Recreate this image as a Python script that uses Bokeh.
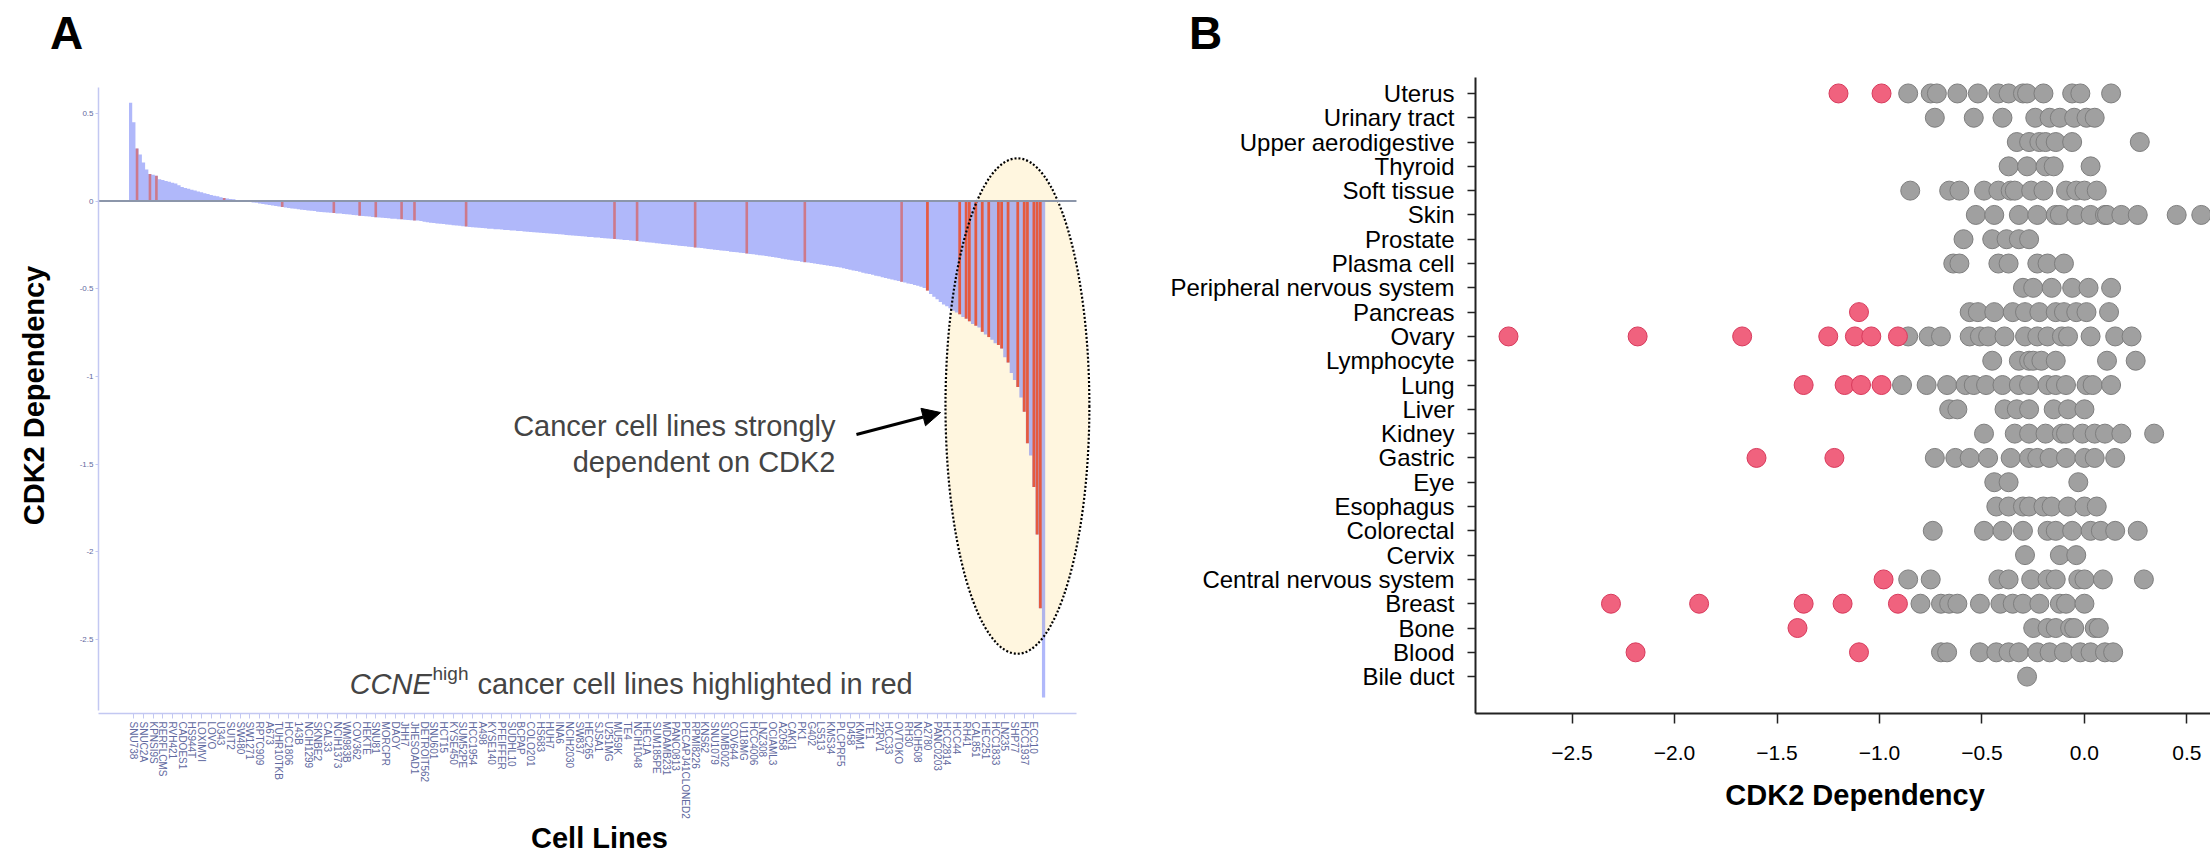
from bokeh.plotting import figure
from bokeh.models import (Range1d, FixedTicker, CustomJSTickFormatter, Label, Arrow,
                          NormalHead, Div)
from bokeh.layouts import row, column
from bokeh.embed import file_html
from bokeh.resources import INLINE

FONT = "Liberation Sans"

# ---------------- Panel A data ----------------
cell_line_labels = [
    "SNU738", "SNUC2A", "KPNSI9S", "RERFLCMS", "RVH421", "CADOES1", "HS944T", "LOXIMVI",
    "LOVO", "U343", "SUIT2", "SW480", "SW1271", "RPTC909", "A673", "TUHR10TKB", "HCC1806",
    "143B", "NCIH1299", "SKNBE2", "CAL33", "NCIH1373", "WM983B", "COV362", "HEKTE", "SNU81",
    "MORCPR", "DAOY", "JHH7", "JHESOAD1", "DETROIT562", "SNU601", "HCT15", "KYSE450",
    "SUM52PE", "HCC1954", "A498", "KYSE140", "PFEIFFER", "SUDHL10", "BCPAP", "COLO201",
    "HS683", "HUH7", "INA6", "NCIH2030", "SW837", "HEC265", "SJSA1", "U251MG", "MU59K",
    "TE4", "NCIH1048", "HEC1A", "SUM185PE", "MDAMB231", "PANC0813", "PECAPJ41CLONED2",
    "RPMI8226", "KNS62", "SNU1079", "SUMB002", "COV644", "U118MG", "HCC4006", "LNZ308",
    "OCIAML3", "A2058", "CAKI1", "PK1", "G402", "LS513", "KMS34", "PLCPRF5", "D458", "KMM1",
    "TE1", "22RV1", "HCC33", "OVTOKO", "RH30", "NCIH508", "A2780", "PANC0203", "HCC2814",
    "HCC44", "RH41", "CAL851", "HEC251", "HCC1833", "LN235", "SHP77", "HCC1937", "ECC10",
]

cdk2_values = [
    0.56, 0.45, 0.30, 0.265, 0.22, 0.18, 0.155, 0.15, 0.145, 0.125,
    0.12, 0.115, 0.11, 0.105, 0.10, 0.09, 0.08, 0.075, 0.07, 0.065,
    0.06, 0.055, 0.05, 0.045, 0.04, 0.035, 0.03, 0.027, 0.022, 0.018,
    0.015, 0.012, 0.01, 0.007, 0.005, 0.002, -0.002, -0.005, -0.008, -0.01,
    -0.013, -0.016, -0.02, -0.022, -0.025, -0.028, -0.031, -0.034, -0.036, -0.039,
    -0.042, -0.044, -0.046, -0.049, -0.051, -0.053, -0.055, -0.057, -0.060, -0.062,
    -0.063, -0.065, -0.066, -0.068, -0.070, -0.071, -0.073, -0.075, -0.077, -0.079,
    -0.081, -0.083, -0.085, -0.087, -0.088, -0.090, -0.092, -0.093, -0.095, -0.097,
    -0.098, -0.100, -0.101, -0.103, -0.104, -0.106, -0.107, -0.109, -0.110, -0.111,
    -0.113, -0.117, -0.120, -0.123, -0.125, -0.127, -0.129, -0.131, -0.133, -0.135,
    -0.137, -0.139, -0.141, -0.143, -0.145, -0.147, -0.149, -0.150, -0.152, -0.154,
    -0.155, -0.157, -0.158, -0.160, -0.161, -0.162, -0.164, -0.165, -0.167, -0.168,
    -0.170, -0.171, -0.173, -0.174, -0.176, -0.177, -0.179, -0.180, -0.182, -0.183,
    -0.185, -0.186, -0.188, -0.189, -0.191, -0.193, -0.194, -0.196, -0.197, -0.199,
    -0.200, -0.202, -0.204, -0.205, -0.207, -0.208, -0.210, -0.212, -0.213, -0.215,
    -0.216, -0.218, -0.219, -0.221, -0.222, -0.224, -0.226, -0.228, -0.230, -0.232,
    -0.234, -0.236, -0.238, -0.240, -0.242, -0.244, -0.246, -0.248, -0.250, -0.252,
    -0.254, -0.256, -0.258, -0.260, -0.262, -0.264, -0.266, -0.268, -0.270, -0.273,
    -0.275, -0.277, -0.279, -0.281, -0.283, -0.285, -0.288, -0.290, -0.292, -0.294,
    -0.296, -0.299, -0.301, -0.303, -0.306, -0.308, -0.310, -0.313, -0.316, -0.319,
    -0.322, -0.325, -0.328, -0.331, -0.334, -0.337, -0.340, -0.342, -0.345, -0.348,
    -0.350, -0.353, -0.356, -0.359, -0.361, -0.364, -0.367, -0.370, -0.373, -0.376,
    -0.379, -0.383, -0.387, -0.391, -0.395, -0.399, -0.403, -0.408, -0.412, -0.416,
    -0.420, -0.425, -0.429, -0.434, -0.438, -0.442, -0.447, -0.451, -0.455, -0.460,
    -0.464, -0.469, -0.473, -0.478, -0.483, -0.488, -0.495, -0.51, -0.53, -0.545,
    -0.56, -0.575, -0.59, -0.60, -0.61, -0.625, -0.635, -0.645, -0.66, -0.67,
    -0.685, -0.70, -0.71, -0.72, -0.745, -0.76, -0.775, -0.79, -0.81, -0.82,
    -0.84, -0.89, -0.92, -0.98, -1.02, -1.06, -1.12, -1.20, -1.38, -1.45,
    -1.63, -1.90, -2.32, -2.83,
]

ccne_high_index = [2, 6, 8, 29, 47, 63, 71, 76, 84, 88, 104, 150, 157, 175, 191, 209,
                   239, 247, 257, 259, 260, 262, 264, 266, 269, 270, 272, 275, 277, 278,
                   280, 281, 282]

# ---------------- Panel B data ----------------
tissues = ["Uterus", "Urinary tract", "Upper aerodigestive", "Thyroid", "Soft tissue", "Skin",
           "Prostate", "Plasma cell", "Peripheral nervous system", "Pancreas", "Ovary",
           "Lymphocyte", "Lung", "Liver", "Kidney", "Gastric", "Eye", "Esophagus",
           "Colorectal", "Cervix", "Central nervous system", "Breast", "Bone", "Blood",
           "Bile duct"]

grey_dots = [
    [-0.86, -0.75, -0.72, -0.62, -0.52, -0.42, -0.37, -0.30, -0.28, -0.20, -0.06, -0.02, 0.13],
    [-0.73, -0.54, -0.40, -0.24, -0.17, -0.12, -0.05, 0.01, 0.05],
    [-0.33, -0.27, -0.22, -0.19, -0.14, -0.06, 0.27],
    [-0.37, -0.28, -0.19, -0.15, 0.03],
    [-0.85, -0.66, -0.61, -0.49, -0.42, -0.36, -0.34, -0.26, -0.20, -0.09, -0.04, 0.00, 0.06],
    [-0.53, -0.44, -0.32, -0.23, -0.14, -0.12, -0.04, 0.03, 0.10, 0.11, 0.18, 0.26, 0.45, 0.57],
    [-0.59, -0.45, -0.38, -0.32, -0.27],
    [-0.64, -0.61, -0.42, -0.37, -0.23, -0.18, -0.10],
    [-0.30, -0.25, -0.16, -0.06, 0.02, 0.13],
    [-0.56, -0.52, -0.44, -0.35, -0.29, -0.22, -0.14, -0.10, -0.04, 0.01, 0.12],
    [-0.86, -0.76, -0.70, -0.56, -0.51, -0.47, -0.39, -0.29, -0.23, -0.18, -0.11, -0.08, 0.03, 0.15, 0.23],
    [-0.45, -0.32, -0.27, -0.25, -0.21, -0.14, 0.11, 0.25],
    [-0.89, -0.77, -0.67, -0.58, -0.54, -0.48, -0.40, -0.32, -0.27, -0.18, -0.14, -0.09, 0.01, 0.04, 0.13],
    [-0.66, -0.62, -0.39, -0.33, -0.27, -0.15, -0.08, 0.00],
    [-0.49, -0.34, -0.27, -0.19, -0.11, -0.09, -0.01, 0.05, 0.10, 0.18, 0.34],
    [-0.73, -0.63, -0.56, -0.47, -0.36, -0.27, -0.23, -0.17, -0.09, 0.00, 0.05, 0.15],
    [-0.44, -0.37, -0.03],
    [-0.43, -0.37, -0.30, -0.27, -0.20, -0.16, -0.08, 0.00, 0.06],
    [-0.74, -0.49, -0.40, -0.30, -0.18, -0.14, -0.06, 0.03, 0.08, 0.15, 0.26],
    [-0.29, -0.12, -0.04],
    [-0.86, -0.75, -0.42, -0.37, -0.26, -0.18, -0.14, -0.03, 0.00, 0.09, 0.29],
    [-0.80, -0.70, -0.66, -0.62, -0.51, -0.41, -0.35, -0.30, -0.22, -0.12, -0.09, 0.00],
    [-0.25, -0.18, -0.14, -0.07, -0.05, 0.05, 0.07],
    [-0.70, -0.67, -0.51, -0.43, -0.37, -0.32, -0.23, -0.17, -0.10, -0.02, 0.03, 0.10, 0.14],
    [-0.28],
]

red_dots = [
    [-1.20, -0.99], [], [], [], [], [], [], [], [], [-1.10],
    [-2.81, -2.18, -1.67, -1.25, -1.12, -1.04, -0.91], [],
    [-1.37, -1.17, -1.09, -0.99], [], [], [-1.60, -1.22], [], [], [], [],
    [-0.98], [-2.31, -1.88, -1.37, -1.18, -0.91], [-1.40], [-2.19, -1.10], [],
]

# ================= layout constants =================
HEAD_H = 60          # height of the row holding the panel letters
FRAME_TOP = 77       # both plot frames share top / bottom (row aligns them)
FRAME_BOTTOM = 715
PAGE_H = 856


def panel_letter(letter, width, pad_left):
    html = ('<div style="font-family:\'Liberation Sans\',Arial,sans-serif;font-size:46px;'
            'font-weight:bold;line-height:46px;color:#000;padding-top:10px;'
            'padding-left:%dpx;margin:0;">%s</div>' % (pad_left, letter))
    return Div(text=html, width=width, height=HEAD_H, margin=0)


# ================= Panel A =================
n = len(cdk2_values)
step_x, step_y = [-0.5], [0.0]
for i, v in enumerate(cdk2_values):
    step_x += [i - 0.5, i + 0.5]
    step_y += [v, v]
step_x.append(n - 0.5)
step_y.append(0.0)

ELL_START = 247  # highlighted bars inside the annotation ellipse
red_out = [i for i in ccne_high_index if i < ELL_START]
red_in = [i for i in ccne_high_index if i >= ELL_START]
tick_pos = [3 * k + 1 for k in range(len(cell_line_labels))]

X0, X1 = -9.95, 300.65
AX_END = 293.2
YA0, YA1 = -2.906, 0.645           # visible extent of the A y axis
pa = figure(width=1158, height=PAGE_H - HEAD_H, x_range=Range1d(X0, X1),
            y_range=Range1d(-2.9205, 0.7045), output_backend="svg",
            toolbar_location=None, title=None, min_border_left=98, min_border_right=58,
            min_border_top=FRAME_TOP - HEAD_H, min_border_bottom=PAGE_H - FRAME_BOTTOM)
pa.outline_line_color = None
pa.grid.visible = False

pa.ellipse(x=[274.9], y=[-1.168], width=44.6, height=2.824,
           fill_color="#FFF6DF", line_color=None)
pa.patch(x=step_x, y=step_y, fill_color="#6171F5", fill_alpha=0.5, line_color=None)
pa.vbar(x=red_out, top=[cdk2_values[i] for i in red_out], bottom=0, width=0.8,
        fill_color="#EA3A19", fill_alpha=0.5, line_color=None)
pa.vbar(x=red_in, top=[cdk2_values[i] for i in red_in], bottom=0, width=0.85,
        fill_color="#EE4A22", fill_alpha=0.85, line_color=None)
pa.ellipse(x=[274.9], y=[-1.168], width=44.6, height=2.824,
           fill_color=None, line_color="black", line_dash="2 2", line_width=2.2)
pa.segment(x0=[X0], y0=[0], x1=[AX_END], y1=[0], line_color="#8C96AA", line_width=2)

pa.xaxis.bounds = (X0, AX_END)
pa.xaxis.ticker = FixedTicker(ticks=tick_pos)
pa.xaxis.major_label_overrides = {t: lab for t, lab in zip(tick_pos, cell_line_labels)}
pa.xaxis.major_label_orientation = "vertical"
pa.xaxis.major_label_text_font = FONT
pa.xaxis.major_label_text_font_size = "10px"
pa.xaxis.major_label_text_color = "#5F69A0"
pa.xaxis.major_label_standoff = 3
pa.xaxis.axis_line_color = "#C3C8F2"
pa.xaxis.axis_line_width = 1.5
pa.xaxis.major_tick_line_color = "#C3C8F2"
pa.xaxis.major_tick_out = 5
pa.xaxis.major_tick_in = 0
pa.xaxis.minor_tick_line_color = None
pa.xaxis.axis_label = "Cell Lines"
pa.xaxis.axis_label_text_font = FONT
pa.xaxis.axis_label_text_font_size = "29px"
pa.xaxis.axis_label_text_font_style = "bold"
pa.xaxis.axis_label_text_color = "black"
pa.xaxis.axis_label_standoff = 0

pa.yaxis.bounds = (YA0, YA1)
pa.yaxis.ticker = FixedTicker(ticks=[0.5, 0, -0.5, -1, -1.5, -2, -2.5])
pa.yaxis.formatter = CustomJSTickFormatter(code="return String(tick);")
pa.yaxis.major_label_text_font = FONT
pa.yaxis.major_label_text_font_size = "8px"
pa.yaxis.major_label_text_color = "#5F69A0"
pa.yaxis.major_label_standoff = 2
pa.yaxis.axis_line_color = "#C3C8F2"
pa.yaxis.axis_line_width = 1.5
pa.yaxis.major_tick_line_color = "#C3C8F2"
pa.yaxis.major_tick_out = 3
pa.yaxis.major_tick_in = 0
pa.yaxis.minor_tick_line_color = None
pa.yaxis.axis_label = "CDK2 Dependency"
pa.yaxis.axis_label_text_font = FONT
pa.yaxis.axis_label_text_font_size = "29px"
pa.yaxis.axis_label_text_font_style = "bold"
pa.yaxis.axis_label_text_color = "black"
pa.yaxis.axis_label_standoff = 27

pa.add_layout(Label(x=218.5, y=-1.284, text="Cancer cell lines strongly", text_font=FONT,
                    text_font_size="29px", text_align="right", text_baseline="middle"))
pa.add_layout(Label(x=218.5, y=-1.489, text="dependent on CDK2", text_font=FONT,
                    text_font_size="29px", text_align="right", text_baseline="middle"))
pa.add_layout(Arrow(end=NormalHead(size=18, fill_color="black", line_color="black"),
                    x_start=225.0, y_start=-1.33, x_end=251.1, y_end=-1.205,
                    line_color="black", line_width=3))
pa.add_layout(Label(x=67.9, y=-2.75, text="CCNE", text_font=FONT, text_font_size="29px",
                    text_font_style="italic", text_align="left", text_baseline="alphabetic"))
pa.add_layout(Label(x=93.6, y=-2.69, text="high", text_font=FONT, text_font_size="19px",
                    text_align="left", text_baseline="alphabetic"))
pa.add_layout(Label(x=107.5, y=-2.75, text="cancer cell lines highlighted in red",
                    text_font=FONT, text_font_size="29px", text_align="left",
                    text_baseline="alphabetic"))

# ================= Panel B =================
nt = len(tissues)
pb = figure(width=1052, height=PAGE_H - HEAD_H, x_range=Range1d(-2.971, 0.615),
            y_range=Range1d(-1.518, 24.656), output_backend="svg",
            toolbar_location=None, title=None, min_border_left=317, min_border_right=0,
            min_border_top=FRAME_TOP - HEAD_H, min_border_bottom=PAGE_H - FRAME_BOTTOM)
pb.outline_line_color = None
pb.grid.visible = False

gx, gy, rx, ry = [], [], [], []
for i, name in enumerate(tissues):
    ypos = nt - 1 - i
    for v in grey_dots[i]:
        gx.append(v)
        gy.append(ypos)
    for v in red_dots[i]:
        rx.append(v)
        ry.append(ypos)

pb.scatter(x=gx, y=gy, size=19, fill_color="#A0A0A0", line_color="#7E7E7E",
           line_width=1)
pb.scatter(x=rx, y=ry, size=19, fill_color="#F0627E", line_color="#D83A5C",
           line_width=1)

pb.yaxis.ticker = FixedTicker(ticks=list(range(nt)))
pb.yaxis.major_label_overrides = {nt - 1 - i: name for i, name in enumerate(tissues)}
pb.yaxis.major_label_text_font = FONT
pb.yaxis.major_label_text_font_size = "24px"
pb.yaxis.major_label_text_color = "black"
pb.yaxis.major_label_standoff = 13
pb.yaxis.axis_line_color = "#222222"
pb.yaxis.axis_line_width = 2
pb.yaxis.major_tick_line_color = "#222222"
pb.yaxis.major_tick_line_width = 1.5
pb.yaxis.major_tick_out = 8
pb.yaxis.major_tick_in = 0
pb.yaxis.minor_tick_line_color = None

pb.xaxis.ticker = FixedTicker(ticks=[-2.5, -2.0, -1.5, -1.0, -0.5, 0.0, 0.5])
pb.xaxis.formatter = CustomJSTickFormatter(
    code="return tick.toFixed(1).replace('-', '\\u2212');")
pb.xaxis.major_label_text_font = FONT
pb.xaxis.major_label_text_font_size = "21px"
pb.xaxis.major_label_text_color = "black"
pb.xaxis.major_label_standoff = 22
pb.xaxis.axis_line_color = "#222222"
pb.xaxis.axis_line_width = 2
pb.xaxis.major_tick_line_color = "#222222"
pb.xaxis.major_tick_line_width = 1.5
pb.xaxis.major_tick_out = 10
pb.xaxis.major_tick_in = 0
pb.xaxis.minor_tick_line_color = None
pb.xaxis.axis_label = "\u00a0\u00a0\u00a0CDK2 Dependency"
pb.xaxis.axis_label_text_font = FONT
pb.xaxis.axis_label_text_font_size = "29px"
pb.xaxis.axis_label_text_font_style = "bold"
pb.xaxis.axis_label_text_color = "black"
pb.xaxis.axis_label_standoff = 16

layout = column(row(panel_letter("A", 1158, 50), panel_letter("B", 1052, 31)),
                row(pa, pb))
open("out.html", "w").write(file_html(layout, INLINE))
